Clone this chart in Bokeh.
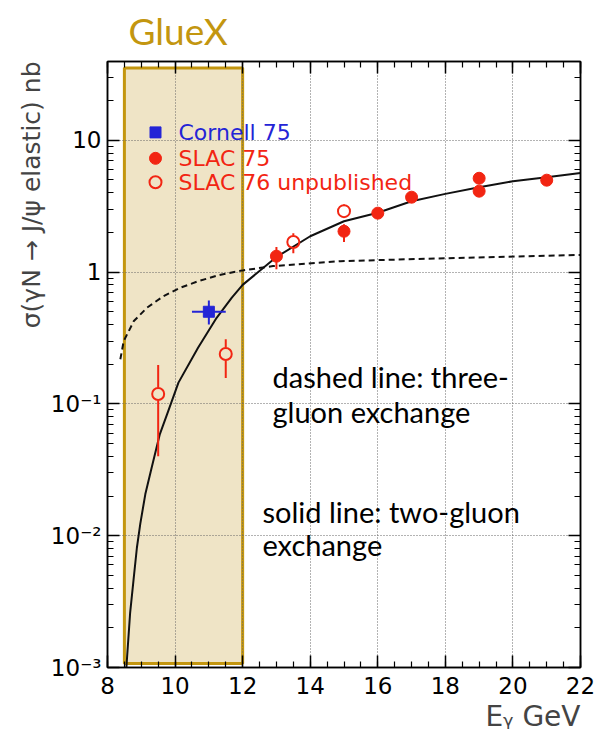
import math

from bokeh.embed import file_html
from bokeh.models import FixedTicker, Label, LinearAxis, LogAxis, Title
from bokeh.plotting import figure
from bokeh.resources import INLINE

# ---- measurements: sigma(gamma N -> J/psi N) in nb vs photon energy in GeV ----
cornell75_e = [11.0]
cornell75_e_lo = [10.5]
cornell75_e_hi = [11.5]
cornell75_sigma = [0.50]
cornell75_lo = [0.40]
cornell75_hi = [0.61]

slac75_e = [13.0, 15.0, 16.0, 17.0, 19.0, 19.0, 21.0]
slac75_sigma = [1.32, 2.04, 2.80, 3.70, 5.15, 4.11, 4.98]
slac75_lo = [1.05, 1.69, 2.57, 3.55, 5.00, 4.00, 4.85]
slac75_hi = [1.55, 2.31, 3.05, 3.90, 5.30, 4.25, 5.10]

slac76_e = [9.5, 11.5, 13.5, 15.0]
slac76_sigma = [0.119, 0.239, 1.69, 2.90]
slac76_lo = [0.040, 0.157, 1.39, 2.57]
slac76_hi = [0.197, 0.310, 1.97, 3.27]

# ---- model curves ----
two_gluon_e = [8.56, 8.57, 8.67, 8.77, 8.87, 8.97, 9.12, 9.31, 9.55, 9.80, 10.1,
               10.68, 11.23, 11.68, 12.0, 13.0, 14.0, 15.0, 16.0, 17.0, 18.0,
               19.0, 20.0, 21.0, 22.0]
two_gluon_sigma = [0.0010, 0.0011, 0.0026, 0.0046, 0.0081, 0.0123, 0.0207, 0.033,
                   0.059, 0.0885, 0.145, 0.267, 0.45, 0.64, 0.80, 1.30, 1.87,
                   2.43, 2.82, 3.45, 3.92, 4.40, 4.89, 5.25, 5.65]

three_gluon_e = [8.38, 8.48, 8.78, 9.17, 9.66, 10.15, 10.7, 11.3, 12.0, 12.9,
                 14.9, 17.8, 22.0]
three_gluon_sigma = [0.218, 0.30, 0.425, 0.537, 0.658, 0.76, 0.855, 0.95, 1.03,
                     1.11, 1.21, 1.27, 1.35]

# GlueX photon energy reach
gluex_e = [8.5, 12.0]

# ---- axes ----
x_range = (8.0, 22.0)
y_range = (1e-3, 39.6)
x_ticks = [8, 10, 12, 14, 16, 18, 20, 22]
y_ticks = [0.001, 0.01, 0.1, 1, 10]
y_tick_labels = ["10⁻³", "10⁻²", "10⁻¹", "1", "10"]

legend_names = ["Cornell 75", "SLAC 75", "SLAC 76 unpublished"]

# ---- colours / fonts ----
RED = "#F22512"
BLUE = "#2424D6"
GOLD = "#C3960F"
BEIGE = "#EFE4C6"
AXFONT = "DejaVu Sans"
NOTEFONT = "Lato"

W, H = 601, 739
L, R, T, B = 107, 21, 60, 72
FW, FH = W - L - R, H - T - B


def data_at(px, py):
    """Canvas pixel -> data coordinates of this frame."""
    x = x_range[0] + (px - L) / FW * (x_range[1] - x_range[0])
    l0, l1 = math.log10(y_range[0]), math.log10(y_range[1])
    return x, 10 ** (l1 - (py - T) / FH * (l1 - l0))


p = figure(width=W, height=H, x_range=x_range, y_range=y_range,
           y_axis_type="log", output_backend="svg", toolbar_location=None,
           min_border_left=L, min_border_right=R, min_border_top=T,
           min_border_bottom=B)
p.background_fill_color = "white"
p.border_fill_color = "white"
p.outline_line_color = "black"
p.outline_line_width = 1.5

xt = FixedTicker(ticks=x_ticks, minor_ticks=[8 + 0.5 * i for i in range(29)])
yminor = [k * 10.0 ** d for d in range(-3, 2) for k in range(2, 10)
          if k * 10.0 ** d < y_range[1]]
yt = FixedTicker(ticks=y_ticks, minor_ticks=yminor)


def style_axis(ax, labels):
    ax.axis_line_color = "black"
    ax.axis_line_width = 1.5
    ax.major_tick_line_color = "black"
    ax.minor_tick_line_color = "black"
    ax.major_tick_line_width = 1.5
    ax.minor_tick_line_width = 1.2
    ax.major_tick_in = 12
    ax.major_tick_out = 0
    ax.minor_tick_in = 6
    ax.minor_tick_out = 0
    if labels:
        ax.major_label_text_font = AXFONT
        ax.major_label_text_font_size = "23px"
        ax.major_label_text_color = "black"
        ax.major_label_standoff = 9
    else:
        ax.major_label_text_font_size = "2px"
        ax.major_label_text_color = None
        ax.major_label_standoff = 0


xa = p.below[0]
xa.ticker = xt
style_axis(xa, True)

ya = p.left[0]
ya.ticker = yt
style_axis(ya, True)
ya.major_label_standoff = 6
ya.major_label_overrides = dict(zip(y_ticks, y_tick_labels))

top_ax = LinearAxis(ticker=xt)
style_axis(top_ax, False)
p.add_layout(top_ax, "above")
right_ax = LogAxis(ticker=yt)
style_axis(right_ax, False)
p.add_layout(right_ax, "right")

for g, tk in ((p.xgrid[0], xt), (p.ygrid[0], yt)):
    g.ticker = tk
    g.grid_line_color = "#666666"
    g.grid_line_dash = "1 2"
    g.grid_line_width = 1

# axis titles and heading
p.add_layout(Title(text="σ(γN → J/ψ elastic) nb", align="right",
                   text_font=AXFONT, text_font_size="25px",
                   text_font_style="normal", standoff=4), "left")
p.add_layout(Title(text="Eᵧ GeV", align="right", text_font=AXFONT,
                   text_font_size="28px", text_font_style="normal",
                   standoff=2), "below")
p.add_layout(Title(text="GlueX", align="left", offset=21, text_font=NOTEFONT,
                   text_font_size="37px", text_font_style="normal",
                   text_color=GOLD, standoff=14, vertical_align="top"), "above")

# GlueX energy band
_, band_bottom = data_at(0, 663)
_, band_top = data_at(0, 66.5)
p.quad(left=[gluex_e[0]], right=[gluex_e[1]], bottom=[band_bottom], top=[band_top],
       fill_color=BEIGE, line_color=GOLD, line_width=3, level="image")

# model curves
p.line(two_gluon_e, two_gluon_sigma, line_color="#111111", line_width=2)
p.line(three_gluon_e, three_gluon_sigma, line_color="#111111", line_width=2,
       line_dash="6 4")

# error bars
p.segment(x0=slac75_e, x1=slac75_e, y0=slac75_lo, y1=slac75_hi,
          line_color=RED, line_width=2)

gap = 10 ** (6.5 * (math.log10(y_range[1]) - math.log10(y_range[0])) / FH)
up_x, up_y0, up_y1, dn_x, dn_y0, dn_y1 = [], [], [], [], [], []
for e, v, lo, hi in zip(slac76_e, slac76_sigma, slac76_lo, slac76_hi):
    if hi > v * gap:
        up_x.append(e); up_y0.append(v * gap); up_y1.append(hi)
    if lo < v / gap:
        dn_x.append(e); dn_y0.append(lo); dn_y1.append(v / gap)
p.segment(x0=up_x, x1=up_x, y0=up_y0, y1=up_y1, line_color=RED, line_width=2)
p.segment(x0=dn_x, x1=dn_x, y0=dn_y0, y1=dn_y1, line_color=RED, line_width=2)

p.segment(x0=cornell75_e, x1=cornell75_e, y0=cornell75_lo, y1=cornell75_hi,
          line_color=BLUE, line_width=2)
p.segment(x0=cornell75_e_lo, x1=cornell75_e_hi, y0=cornell75_sigma,
          y1=cornell75_sigma, line_color=BLUE, line_width=2)

# markers
p.scatter(cornell75_e, cornell75_sigma, marker="square", size=11,
          fill_color=BLUE, line_color=BLUE)
p.scatter(slac75_e, slac75_sigma, marker="circle", size=12,
          fill_color=RED, line_color=RED)
p.scatter(slac76_e, slac76_sigma, marker="circle", size=12,
          fill_color=None, line_color=RED, line_width=2)

# legend
leg_rows = [131, 157, 181]
leg_marker = [("square", BLUE, BLUE, 11), ("circle", RED, RED, 12),
              ("circle", None, RED, 12)]
leg_colors = [BLUE, RED, RED]
for row, (mk, fc, lc, sz), name, col in zip(leg_rows, leg_marker, legend_names,
                                           leg_colors):
    mx, my = data_at(155, row)
    p.scatter([mx], [my], marker=mk, size=sz, fill_color=fc, line_color=lc,
              line_width=2 if fc is None else 1)
    tx, ty = data_at(178, row)
    p.add_layout(Label(x=tx, y=ty, text=name, text_color=col, text_font=AXFONT,
                       text_font_size="22px", text_baseline="middle"))

# notes on the model curves
notes = [("dashed line: three-", 272, 393), ("gluon exchange", 272, 428),
         ("solid line: two-gluon", 262, 528), ("exchange", 262, 561)]
for txt, px, py in notes:
    nx, ny = data_at(px, py)
    p.add_layout(Label(x=nx, y=ny, text=txt, text_font=NOTEFONT,
                       text_font_size="29px", text_color="black"))

open("out.html", "w").write(file_html(p, INLINE))
